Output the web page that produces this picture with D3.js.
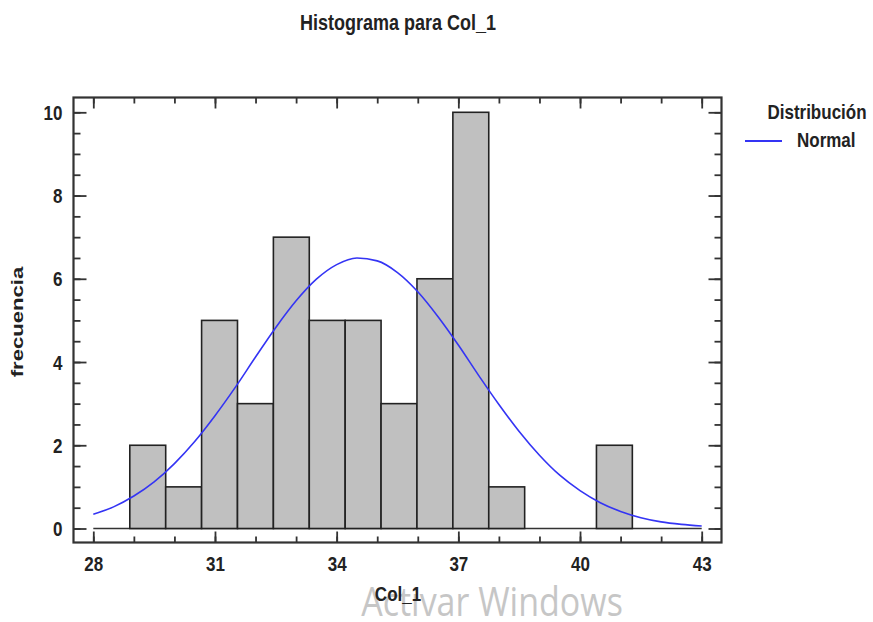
<!DOCTYPE html>
<html>
<head>
<meta charset="utf-8">
<script src="https://cdn.jsdelivr.net/npm/d3@7"></script>
<style>
  body { margin: 0; background: #fff; }
  text { font-family: 'Liberation Sans', Arial, sans-serif; font-weight: bold; fill: #222; }
</style>
</head>
<body>
<svg id="chart" width="873" height="622"></svg>
<script>
// histogram: bin edges start + width, counts per bin
const binStart = 28.9
const binWidth = 0.885
const counts = [2, 1, 5, 3, 7, 5, 5, 3, 6, 10, 1, 0, 0, 2]

// fitted normal curve
const curveX = [28, 28.5, 29, 29.5, 30, 30.5, 31, 31.5, 32, 32.5, 33, 33.5, 34, 34.5, 35, 35.5, 36, 36.5, 37, 37.5, 38, 38.5, 39, 39.5, 40, 40.5, 41, 41.5, 42, 42.5, 43]
const curveY = [0.34, 0.52, 0.78, 1.12, 1.56, 2.09, 2.71, 3.39, 4.12, 4.83, 5.47, 5.99, 6.34, 6.5, 6.43, 6.15, 5.69, 5.09, 4.41, 3.68, 2.98, 2.33, 1.76, 1.28, 0.91, 0.62, 0.41, 0.26, 0.16, 0.1, 0.06]

const xMajor = [28, 31, 34, 37, 40, 43]
const yMajor = [0, 2, 4, 6, 8, 10]

const svg = d3.select('#chart')

const frame = { left: 73.5, right: 721.5, top: 97.5, bottom: 542.5 }
const stretch = 1.2 // the screenshot is stretched vertically

const x = d3.scaleLinear().domain([28, 43]).range([93.3, 701.7])
const y = d3.scaleLinear().domain([0, 10]).range([528.5, 112.3])

const bins = counts.map((c, i) => ({
  x0: binStart + i * binWidth,
  x1: binStart + (i + 1) * binWidth,
  count: c,
}))

function label(px, py, txt, size, anchor) {
  return svg.append('text')
    .attr('transform', `translate(${px},${py}) scale(1,${stretch})`)
    .attr('text-anchor', anchor || 'middle')
    .style('font-size', size + 'px')
    .text(txt)
}

// title
label(398, 30, 'Histograma para Col_1', 18)

// baseline at zero
svg.append('line')
  .attr('x1', x(28)).attr('x2', x(43))
  .attr('y1', y(0)).attr('y2', y(0))
  .attr('stroke', '#333').attr('stroke-width', 1.5)

// bars
svg.append('g')
  .selectAll('rect')
  .data(bins.filter((d) => d.count > 0))
  .join('rect')
  .attr('x', (d) => x(d.x0))
  .attr('y', (d) => y(d.count))
  .attr('width', (d) => x(d.x1) - x(d.x0))
  .attr('height', (d) => y(0) - y(d.count))
  .attr('fill', '#c0c0c0')
  .attr('stroke', '#222')
  .attr('stroke-width', 1.6)

// normal curve
const line = d3.line()
  .x((d, i) => x(curveX[i]))
  .y((d) => y(d))
  .curve(d3.curveMonotoneX)

svg.append('path')
  .datum(curveY)
  .attr('d', line)
  .attr('fill', 'none')
  .attr('stroke', '#3434f4')
  .attr('stroke-width', 1.6)

// axes: ticks drawn inward on all four sides
const xMinor = d3.range(28, 44, 1)
const yMinor = d3.range(0, 10.5, 0.5)

function styleAxis(g) {
  g.select('.domain').remove()
  g.selectAll('line').attr('stroke', '#333').attr('stroke-width', 1.8)
}

// bottom
svg.append('g').attr('transform', `translate(0,${frame.bottom})`)
  .call(d3.axisBottom(x).tickValues(xMinor).tickSize(-6).tickFormat(''))
  .call(styleAxis)
svg.append('g').attr('transform', `translate(0,${frame.bottom})`)
  .call(d3.axisBottom(x).tickValues(xMajor).tickSize(-11).tickFormat(d3.format('d')))
  .call(styleAxis)
  .call((g) => g.selectAll('text')
    .attr('y', 28.5 / stretch).attr('dy', '0')
    .attr('transform', `scale(1,${stretch})`)
    .attr('font-family', null).attr('font-size', null)
    .style('font-size', '17px').attr('fill', '#222'))

// top
svg.append('g').attr('transform', `translate(0,${frame.top})`)
  .call(d3.axisTop(x).tickValues(xMinor).tickSize(-6).tickFormat(''))
  .call(styleAxis)
svg.append('g').attr('transform', `translate(0,${frame.top})`)
  .call(d3.axisTop(x).tickValues(xMajor).tickSize(-11).tickFormat(''))
  .call(styleAxis)

// left
svg.append('g').attr('transform', `translate(${frame.left},0)`)
  .call(d3.axisLeft(y).tickValues(yMinor).tickSize(-7).tickFormat(''))
  .call(styleAxis)
svg.append('g').attr('transform', `translate(${frame.left},0)`)
  .call(d3.axisLeft(y).tickValues(yMajor).tickSize(-13).tickFormat(d3.format('d')))
  .call(styleAxis)
  .call((g) => g.selectAll('text')
    .attr('x', -11).attr('dy', '0.35em')
    .attr('transform', `scale(1,${stretch})`)
    .attr('font-family', null).attr('font-size', null)
    .style('font-size', '17px').attr('fill', '#222'))

// right
svg.append('g').attr('transform', `translate(${frame.right},0)`)
  .call(d3.axisRight(y).tickValues(yMinor).tickSize(-7).tickFormat(''))
  .call(styleAxis)
svg.append('g').attr('transform', `translate(${frame.right},0)`)
  .call(d3.axisRight(y).tickValues(yMajor).tickSize(-13).tickFormat(''))
  .call(styleAxis)

// frame
svg.append('rect')
  .attr('x', frame.left).attr('y', frame.top)
  .attr('width', frame.right - frame.left)
  .attr('height', frame.bottom - frame.top)
  .attr('fill', 'none')
  .attr('stroke', '#333')
  .attr('stroke-width', 2.2)

// y axis title (rotated, stretched along its length)
svg.append('text')
  .attr('transform', `translate(23,322) rotate(-90) scale(1.3,1)`)
  .attr('text-anchor', 'middle')
  .style('font-size', '17px')
  .text('frecuencia')

// watermark from the screenshot
svg.append('text')
  .attr('transform', `translate(492,616) scale(1,${stretch})`)
  .attr('text-anchor', 'middle')
  .style('font-family', "'Open Sans', 'Noto Sans', sans-serif")
  .style('font-weight', 'normal')
  .style('font-size', '34px')
  .style('fill', '#c6c6c6')
  .text('Activar Windows')

// x axis title
label(398, 601, 'Col_1', 17)

// legend
label(817, 119, 'Distribución', 17)
svg.append('line')
  .attr('x1', 745).attr('x2', 782)
  .attr('y1', 141).attr('y2', 141)
  .attr('stroke', '#3434f4').attr('stroke-width', 2)
label(797, 147, 'Normal', 17, 'start')
</script>
</body>
</html>
